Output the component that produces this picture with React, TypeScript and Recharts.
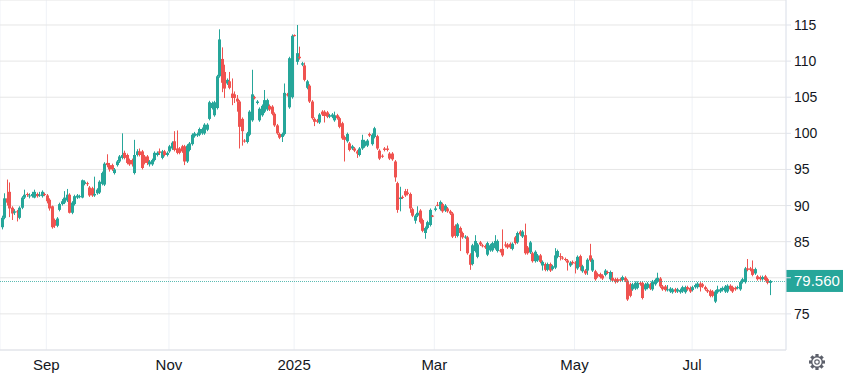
import { ComposedChart, Bar, XAxis, YAxis, CartesianGrid, ReferenceLine } from 'recharts'

const UP = '#26a69a'
const DOWN = '#ef5350'
const TEXT = '#131722'
const FONT = '"Liberation Sans", Arial, sans-serif'

// daily candles, [open, high, low, close]
const aug24 = [
  [87.0, 88.6, 86.7, 88.3], [88.3, 91.7, 88.1, 91.0], [91.0, 93.6, 90.0, 90.4], [91.9, 93.2, 88.4, 89.6],
  [89.7, 89.9, 88.0, 88.9], [89.0, 89.5, 88.7, 89.2], [89.2, 89.4, 87.8, 89.1], [88.3, 89.9, 88.1, 89.7],
  [89.7, 91.3, 89.5, 91.1], [91.1, 92.2, 90.9, 91.5], [91.6, 91.8, 91.2, 91.5], [91.3, 91.7, 91.0, 91.4],
  [91.3, 91.9, 91.1, 91.6], [91.1, 92.2, 91.0, 91.9], [91.6, 91.8, 91.1, 91.3], [91.4, 91.9, 91.2, 91.5],
  [91.3, 92.1, 91.1, 91.9], [91.6, 91.8, 91.3, 91.5],
]
const sep24 = [
  [91.4, 91.6, 90.3, 90.6], [90.8, 91.0, 89.3, 89.6], [89.9, 90.0, 86.8, 87.0], [88.0, 88.2, 86.9, 87.2],
  [87.2, 88.4, 87.0, 88.2], [89.4, 90.4, 89.2, 90.2], [90.2, 90.9, 90.0, 90.6], [90.4, 92.0, 90.2, 91.1],
  [90.7, 92.3, 90.5, 91.5], [91.5, 91.7, 88.9, 89.0], [89.0, 90.6, 88.8, 90.4], [90.2, 91.5, 90.0, 91.3],
  [91.1, 91.6, 90.9, 91.4], [91.2, 91.5, 91.0, 91.3], [91.1, 93.6, 91.0, 93.5], [93.0, 93.5, 92.8, 93.3],
  [93.1, 93.3, 92.7, 93.0], [92.5, 92.7, 91.2, 91.4], [92.4, 92.6, 91.2, 91.4], [91.4, 94.0, 91.2, 91.6],
  [91.7, 92.4, 91.5, 92.2], [91.8, 93.5, 91.6, 93.3], [93.0, 94.7, 92.8, 94.5], [92.9, 96.0, 92.7, 95.8],
]
const oct24 = [
  [95.9, 97.1, 95.3, 95.6], [95.6, 95.9, 94.7, 95.0], [95.6, 95.8, 94.8, 95.0], [94.5, 95.2, 94.3, 95.0],
  [95.6, 96.3, 95.4, 96.1], [96.1, 97.0, 95.9, 96.8], [96.6, 100.0, 96.4, 97.0], [97.3, 97.6, 96.4, 96.6],
  [97.0, 97.2, 95.7, 95.9], [96.3, 96.5, 95.5, 95.7], [96.3, 96.5, 95.4, 95.7], [94.5, 99.1, 94.3, 97.0],
  [97.0, 97.8, 96.8, 97.5], [97.5, 97.9, 96.8, 97.0], [97.5, 97.7, 95.0, 95.2], [96.8, 97.0, 95.7, 95.9],
  [96.8, 97.0, 95.6, 95.9], [95.7, 96.3, 95.4, 96.1], [95.7, 96.5, 95.5, 96.3], [96.3, 97.5, 96.1, 97.3],
  [97.0, 97.5, 96.8, 97.3], [97.5, 97.9, 97.0, 97.3], [96.6, 97.7, 96.4, 97.5], [97.5, 97.7, 96.8, 97.0],
  [97.0, 97.5, 96.8, 97.3],
]
const nov24 = [
  [97.5, 98.4, 97.3, 98.2], [97.9, 98.9, 97.7, 98.7], [98.9, 100.3, 97.5, 97.7], [97.9, 100.4, 97.1, 97.3],
  [97.9, 98.1, 97.1, 97.3], [98.2, 98.4, 97.3, 97.5], [98.2, 98.4, 95.6, 96.1], [96.1, 98.5, 95.9, 98.3],
  [97.7, 98.8, 97.5, 98.6], [98.5, 100.0, 98.3, 99.8], [99.6, 100.2, 99.4, 100.0], [99.7, 100.1, 99.5, 99.9],
  [99.8, 100.8, 99.6, 100.6], [100.0, 100.8, 99.8, 100.6], [100.0, 101.4, 99.8, 101.2], [100.5, 101.4, 100.3, 101.2],
  [102.0, 104.5, 101.8, 104.3], [103.5, 104.4, 103.3, 104.2], [102.5, 104.5, 102.3, 104.3], [103.5, 108.1, 103.3, 107.9],
  [107.9, 114.4, 107.7, 113.0], [110.3, 111.9, 105.7, 107.0], [108.5, 109.5, 104.9, 106.2], [106.9, 107.6, 106.7, 107.4],
  [107.2, 108.5, 106.1, 106.3],
]
const dec24 = [
  [105.5, 107.6, 103.9, 104.9], [105.4, 105.8, 104.2, 104.9], [104.8, 105.3, 103.0, 104.4], [104.4, 104.6, 97.9, 100.9],
  [102.0, 102.2, 98.3, 100.3], [99.0, 99.2, 98.7, 98.9], [98.8, 100.2, 98.6, 100.0], [99.8, 103.2, 99.6, 103.0],
  [101.8, 108.8, 101.6, 105.4], [105.0, 105.2, 104.7, 104.9], [104.2, 104.6, 104.0, 104.4], [101.8, 103.6, 101.6, 103.4],
  [102.5, 104.0, 102.3, 103.8], [103.0, 106.0, 102.8, 104.6], [103.3, 104.8, 103.1, 104.6], [103.8, 104.0, 103.1, 103.3],
  [103.7, 103.9, 102.5, 102.7], [102.7, 102.9, 100.9, 101.1], [101.1, 101.3, 99.8, 100.0], [99.9, 100.1, 99.2, 99.4],
  [99.5, 100.1, 98.8, 99.9], [99.9, 106.9, 99.7, 105.6], [105.4, 105.6, 105.1, 105.3], [103.6, 110.6, 103.4, 110.4],
  [105.0, 113.7, 104.8, 113.5],
]
const jan25 = [
  [113.6, 113.7, 113.4, 113.5], [109.9, 115.0, 109.5, 111.1], [110.6, 112.0, 110.2, 110.4], [109.5, 109.9, 109.3, 109.7],
  [109.4, 109.8, 107.2, 107.4], [106.3, 107.4, 106.1, 107.2], [106.6, 106.8, 104.2, 104.4], [104.4, 104.6, 101.9, 102.1],
  [102.0, 102.2, 101.0, 101.6], [101.8, 102.0, 101.4, 101.6], [101.5, 102.8, 101.3, 102.6], [103.0, 103.2, 102.4, 102.6],
  [103.0, 103.2, 101.5, 102.4], [102.9, 103.1, 102.1, 102.3], [102.3, 102.7, 102.1, 102.5], [102.3, 102.8, 102.1, 102.6],
  [101.8, 103.0, 101.6, 102.5], [102.5, 102.7, 101.9, 102.1], [102.1, 102.3, 100.7, 100.9], [101.4, 101.6, 99.1, 99.3],
  [99.5, 99.7, 96.1, 99.1], [98.9, 100.1, 98.7, 99.9], [98.6, 98.8, 97.5, 97.7], [97.9, 98.4, 97.7, 98.2],
  [97.9, 98.1, 97.4, 97.6], [97.5, 97.7, 96.6, 97.2], [97.0, 98.1, 96.8, 97.9], [97.9, 99.8, 97.7, 99.1],
]
const feb25 = [
  [98.2, 99.1, 98.0, 98.9], [98.3, 99.2, 98.1, 99.0], [99.9, 100.1, 99.5, 99.7], [98.5, 100.0, 98.3, 99.8],
  [99.5, 100.9, 99.3, 100.7], [99.6, 99.8, 97.7, 97.9], [97.6, 97.8, 96.3, 96.5], [96.9, 97.1, 96.6, 96.8],
  [97.9, 98.1, 97.5, 97.7], [97.9, 98.3, 97.5, 97.7], [97.2, 97.4, 96.3, 96.5], [97.2, 97.4, 96.2, 96.4],
  [96.1, 96.3, 93.3, 93.9], [93.1, 93.3, 89.0, 89.4], [90.9, 92.6, 89.2, 91.1], [91.2, 91.4, 90.9, 91.1],
  [92.0, 92.3, 91.2, 91.4], [91.8, 92.3, 91.4, 91.6], [91.6, 91.8, 89.0, 89.6], [89.5, 89.7, 88.4, 88.6],
  [87.9, 88.8, 87.5, 88.6], [88.6, 89.9, 88.4, 89.0], [89.3, 89.5, 87.5, 87.7], [88.0, 88.2, 86.3, 86.5],
  [86.2, 87.1, 85.4, 86.9], [86.9, 87.9, 86.7, 87.7], [87.3, 89.6, 87.1, 89.4], [88.6, 88.7, 88.4, 88.5],
]
const mar25 = [
  [89.4, 89.9, 89.2, 89.6], [90.1, 90.5, 89.9, 90.0], [89.5, 90.7, 89.3, 90.5], [90.2, 90.4, 89.0, 89.2],
  [89.3, 90.2, 89.1, 90.0], [89.6, 89.8, 89.0, 89.2], [89.2, 89.4, 88.7, 88.9], [88.9, 89.1, 85.5, 85.7],
  [87.2, 87.4, 85.5, 85.8], [85.8, 87.6, 85.6, 87.4], [86.9, 87.1, 83.7, 86.2], [86.2, 86.4, 85.4, 85.6],
  [85.6, 85.9, 85.4, 85.7], [85.6, 85.8, 83.2, 83.4], [83.2, 83.4, 81.1, 81.8], [81.9, 84.7, 81.7, 84.5],
  [83.7, 85.9, 83.5, 85.1], [82.9, 84.8, 82.7, 84.6], [84.9, 85.1, 84.4, 84.6], [84.5, 84.7, 84.2, 84.4],
  [84.4, 84.6, 84.0, 84.2], [83.2, 85.0, 83.0, 84.8], [83.8, 84.7, 83.6, 84.5], [83.8, 85.0, 83.6, 84.8],
  [84.1, 85.9, 83.9, 85.1], [83.7, 85.3, 83.5, 85.1], [83.8, 84.0, 83.5, 83.7], [84.0, 86.7, 82.9, 83.1],
]
const apr25 = [
  [84.6, 85.0, 84.2, 84.5], [84.6, 84.8, 84.0, 84.2], [84.7, 84.9, 84.0, 84.2], [84.0, 84.9, 83.8, 84.7],
  [85.6, 85.8, 84.6, 84.8], [84.9, 86.4, 84.7, 86.2], [86.4, 86.6, 85.8, 86.0], [85.7, 86.6, 85.5, 86.4],
  [85.9, 87.5, 83.2, 83.4], [84.2, 84.4, 83.2, 83.4], [83.5, 85.1, 83.3, 84.9], [83.4, 83.6, 82.1, 82.3],
  [82.3, 83.8, 82.1, 83.6], [82.4, 83.3, 82.2, 83.1], [83.1, 83.3, 82.0, 82.2], [81.7, 82.4, 81.0, 82.2],
  [81.9, 82.1, 80.9, 81.1], [81.1, 82.1, 80.9, 81.9], [81.9, 82.1, 80.8, 81.0], [81.2, 81.8, 81.0, 81.6],
  [81.4, 84.1, 81.2, 83.1], [82.9, 83.9, 82.7, 83.7], [83.0, 83.4, 82.4, 82.9], [82.8, 83.0, 82.5, 82.7],
  [82.6, 82.8, 82.3, 82.5], [82.4, 82.6, 81.0, 82.1], [81.7, 82.3, 81.5, 82.1], [82.2, 82.4, 81.8, 82.0],
]
const may25 = [
  [82.1, 82.3, 80.6, 82.0], [81.3, 83.1, 81.1, 82.9], [83.0, 83.2, 81.0, 81.5], [80.9, 81.8, 80.7, 81.6],
  [81.0, 81.2, 80.4, 80.6], [81.0, 82.7, 80.4, 82.5], [83.1, 84.7, 82.2, 82.4], [81.0, 82.7, 80.8, 82.5],
  [80.9, 81.1, 79.6, 79.8], [80.5, 80.7, 80.0, 80.2], [80.5, 80.7, 79.9, 80.1], [80.3, 80.5, 79.7, 79.9],
  [80.4, 81.2, 80.2, 81.0], [80.8, 81.0, 80.5, 80.7], [79.8, 81.0, 79.6, 80.8], [80.0, 80.8, 79.4, 79.6],
  [79.8, 80.0, 79.2, 79.4], [79.8, 80.0, 79.3, 79.5], [79.8, 80.0, 79.4, 79.6], [79.7, 80.3, 79.5, 80.1],
  [80.0, 80.2, 79.4, 79.6], [79.6, 79.8, 76.8, 77.0], [79.1, 79.3, 77.3, 77.5],
]
const jun25 = [
  [78.4, 79.3, 78.2, 79.1], [78.5, 79.5, 78.3, 79.3], [78.6, 79.5, 78.4, 79.3], [79.3, 79.5, 78.9, 79.1],
  [79.3, 79.5, 77.0, 77.2], [78.4, 79.3, 78.2, 79.1], [78.6, 79.4, 78.4, 79.2], [79.1, 79.3, 78.3, 78.5],
  [78.4, 79.7, 78.2, 79.5], [79.1, 79.9, 78.9, 79.7], [79.5, 80.7, 79.3, 80.0], [79.9, 80.1, 78.6, 78.8],
  [78.8, 79.0, 78.2, 78.4], [78.8, 79.0, 78.1, 78.3], [78.3, 79.0, 78.1, 78.4], [78.1, 78.7, 77.9, 78.5],
  [78.0, 78.6, 77.8, 78.4], [78.4, 78.6, 77.9, 78.1], [78.1, 78.6, 77.9, 78.4], [78.0, 78.5, 77.8, 78.3],
  [78.1, 78.9, 77.9, 78.7], [78.0, 78.9, 77.8, 78.7], [78.7, 78.9, 78.2, 78.4], [78.6, 78.8, 77.9, 78.1],
]
const jul25 = [
  [78.3, 78.9, 78.1, 78.7], [78.7, 79.2, 78.5, 79.0], [78.7, 79.4, 78.5, 79.2], [79.2, 79.4, 78.1, 78.7],
  [79.1, 79.3, 78.6, 78.8], [78.7, 78.9, 78.2, 78.4], [78.3, 78.5, 77.9, 78.1], [78.2, 78.4, 77.3, 77.5],
  [78.1, 78.3, 77.3, 77.5], [76.7, 78.3, 76.5, 78.1], [78.0, 78.9, 77.8, 78.4], [78.1, 78.6, 77.9, 78.4],
  [78.3, 78.8, 78.1, 78.6], [78.1, 79.0, 77.9, 78.8], [78.1, 79.1, 77.9, 78.9], [78.9, 79.1, 78.2, 78.4],
  [78.7, 78.9, 77.9, 78.1], [78.6, 78.8, 78.2, 78.4], [78.6, 78.9, 78.4, 78.7], [78.4, 79.6, 78.2, 79.4],
  [79.4, 80.0, 79.2, 79.8], [79.4, 81.5, 79.2, 81.3], [81.3, 82.6, 80.9, 81.1], [81.3, 81.5, 80.9, 81.1],
]
const aug25 = [
  [81.2, 82.4, 80.2, 80.4], [80.6, 81.4, 80.4, 81.2], [80.2, 80.4, 79.6, 79.8], [80.1, 80.3, 79.6, 79.8],
  [79.8, 80.3, 79.6, 80.1], [80.2, 80.4, 79.5, 79.7], [79.8, 80.0, 79.1, 79.3], [79.3, 79.7, 77.6, 79.56],
]

const monthBlocks = [aug24, sep24, oct24, nov24, dec24, jan25, feb25, mar25, apr25, may25, jun25, jul25, aug25]
const monthNames = ['Aug', 'Sep', 'Oct', 'Nov', 'Dec', '2025', 'Feb', 'Mar', 'Apr', 'May', 'Jun', 'Jul', 'Aug']
const labeledMonths = ['Sep', 'Nov', '2025', 'Mar', 'May', 'Jul']
const priceTicks = [75, 80, 85, 90, 95, 100, 105, 110, 115]
const priceDomain = [70, 118.46]
const emptySlots = 6 // right offset after the last bar

const candles = monthBlocks.flat()
const rows: any[] = candles.map(([o, h, l, c], i) => ({ i, o, h, l, c }))
for (let k = 0; k < emptySlots; k++) rows.push({ i: candles.length + k })

const tickIdx: number[] = []
const tickText: Record<number, string> = {}
let start = 0
monthBlocks.forEach((block, m) => {
  if (labeledMonths.includes(monthNames[m])) {
    tickIdx.push(start)
    tickText[start] = monthNames[m]
  }
  start += block.length
})

const lastClose = candles[candles.length - 1][3]

function Candle(props: any) {
  const { x, y, width, height, payload } = props
  if (!payload || payload.o == null || !height) return null
  const { o, h, l, c } = payload
  const k = height / (h - l)
  const cx = Math.round(x + width / 2)
  const top = y + (h - Math.max(o, c)) * k
  const bh = Math.max(1, Math.abs(c - o) * k)
  return (
    <g fill={c >= o ? UP : DOWN}>
      <rect x={cx} y={y} width={1} height={height} />
      <rect x={cx - 1} y={top} width={3} height={bh} />
    </g>
  )
}

// price scale label, hidden where the last-price tag covers it
function PriceTick(props: any) {
  const { x, y, payload } = props
  if (Math.abs(payload.value - lastClose) < 1.5) return <g />
  return (
    <text x={x} y={y} dy="0.36em" fontSize={14} fill={TEXT} textAnchor="start" fontFamily={FONT}>
      {payload.value}
    </text>
  )
}

// dotted last-price line snapped to the pixel grid, plus the tag on the scale
function PriceTag(props: any) {
  const { viewBox } = props
  if (!viewBox) return null
  const x = viewBox.x + viewBox.width
  const y = viewBox.y
  const ly = Math.round(y) + 0.5
  return (
    <g>
      <line x1={viewBox.x} x2={x} y1={ly} y2={ly} stroke={UP} strokeOpacity={0.75} strokeDasharray="1 1" />
      <rect x={x} y={y - 11} width={57} height={22} fill={UP} />
      <text x={x + 8} y={y} dy="0.36em" fill="#fff" fontSize={15} fontFamily={FONT}>
        {lastClose.toFixed(3)}
      </text>
    </g>
  )
}

function Gear() {
  const teeth = [0, 45, 90, 135, 180, 225, 270, 315]
  return (
    <svg width={18} height={18} viewBox="-9 -9 18 18" style={{ position: 'absolute', left: 808, top: 353 }}>
      {teeth.map((a) => (
        <rect key={a} x={-1.6} y={-8} width={3.2} height={3} fill="#5d606b" transform={`rotate(${a})`} />
      ))}
      <circle r={5.3} fill="none" stroke="#5d606b" strokeWidth={1.4} />
      <circle r={2.2} fill="none" stroke="#5d606b" strokeWidth={1.2} />
    </svg>
  )
}

export default function App() {
  return (
    <div style={{ position: 'absolute', left: 0, top: 0, width: 843, height: 373, background: '#fff', fontFamily: FONT }}>
      <ComposedChart
        width={843}
        height={373}
        data={rows}
        margin={{ top: 0, right: 0, left: 0, bottom: 0 }}
        barCategoryGap={0}
        style={{ fontFamily: FONT }}
      >
        <CartesianGrid horizontal={false} stroke="#eff2f7" />
        <CartesianGrid vertical={false} stroke="#e6e6e6" />
        <XAxis
          dataKey="i"
          type="category"
          ticks={tickIdx}
          interval={0}
          tickFormatter={(v) => tickText[v] ?? ''}
          height={23}
          tickLine={false}
          tickMargin={3}
          axisLine={{ stroke: '#e0e3eb' }}
          tick={{ fontSize: 15, fill: TEXT }}
        />
        <YAxis
          orientation="right"
          domain={priceDomain}
          ticks={priceTicks}
          allowDataOverflow
          width={57}
          tickSize={5}
          tickMargin={3}
          tickLine={{ stroke: '#e0e3eb' }}
          axisLine={{ stroke: '#e0e3eb' }}
          tick={(p: any) => <PriceTick {...p} />}
        />
        <Bar
          dataKey={(d: any) => (d.o == null ? null : [d.l, d.h])}
          shape={(p: any) => <Candle {...p} />}
          isAnimationActive={false}
        />
        <ReferenceLine
          y={lastClose}
          stroke="none"
          label={(p: any) => <PriceTag {...p} />}
        />
      </ComposedChart>
      <Gear />
    </div>
  )
}
